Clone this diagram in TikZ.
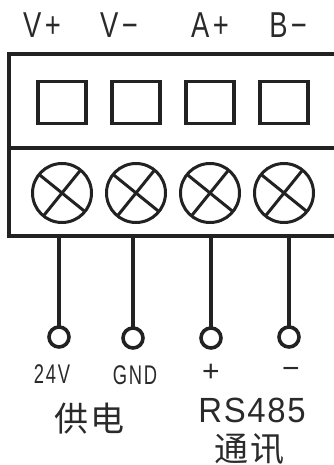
\documentclass[tikz,border=0pt]{standalone}
\usepackage{fontspec}
\setmainfont{Liberation Sans}
\newfontfamily\cjk{Noto Sans CJK SC}
\definecolor{ink}{HTML}{222222}
\definecolor{txt}{HTML}{2A2A2A}
\tikzset{
  x=1pt,y=-1pt,
  every node/.style={inner sep=0pt,outer sep=0pt,text=txt},
  frameline/.style={draw=ink,line width=3.6pt},
  slot/.style={draw=ink,line width=3.2pt,minimum width=48pt,minimum height=42pt},
  screwring/.style={circle,draw=ink,line width=3pt,minimum size=59pt},
  crossline/.style={draw=ink,line width=3pt},
  pad/.style={circle,draw=ink,line width=3.6pt,minimum size=20pt},
  wire/.style={draw=ink,line width=3.6pt},
  toplabel/.style={font=\fontsize{36}{36}\selectfont\addfontfeature{LetterSpace=12},xscale=.76},
  smalllabel/.style={font=\fontsize{27}{27}\selectfont\addfontfeature{LetterSpace=10},xscale=.68},
  signlabel/.style={font=\fontsize{30}{30}\selectfont,xscale=1},
  grouplabel/.style={font=\cjk\fontsize{34}{34}\selectfont\addfontfeature{LetterSpace=6}},
  rslabel/.style={font=\fontsize{35}{35}\selectfont\addfontfeature{LetterSpace=5},xscale=.94},
}
\begin{document}
\begin{tikzpicture}
\useasboundingbox (0,0) rectangle (334,465);
\clip (0,0) rectangle (334,465);
\fill[white] (0,0) rectangle (334,465);
% body, running off the right edge
\coordinate (tl) at (9,54);
\coordinate (br) at (345,236);
\coordinate (dl) at (9,148);
\coordinate (dr) at (345,148);
\draw[frameline] (tl) rectangle (br);
\draw[frameline] (dl) -- (dr);
% top labels
\node[toplabel] (lv1) at (42,25) {V+};
\node[toplabel] (lv2) at (119,25) {V−};
\node[toplabel] (la) at (210,25) {A+};
\node[toplabel] (lb) at (288,25) {B−};
% slots and screws
\foreach \n/\x in {1/62,2/136,3/210,4/284}{
  \node[slot] (s\n) at (\x,102.5) {};
  \node[screwring] (c\n) at (\x,193) {};
  \draw[crossline] (c\n.141) -- (c\n.-39);
  \draw[crossline] (c\n.51) -- (c\n.231);
}
% wires and pads
\foreach \n/\x/\y in {1/59/337,2/133/338,3/211/338,4/289/337}{
  \coordinate (w\n) at (\x,236);
  \node[pad] (p\n) at (\x,\y) {};
  \draw[wire] (w\n) -- (p\n);
}
% bottom labels
\node[smalllabel] (l24) at (52,374) {24V};
\node[smalllabel] (lgnd) at (135,375) {GND};
\node[signlabel] (lplus) at (211,373) {+};
\node[signlabel] (lminus) at (291,373) {−};
\node[grouplabel] (lpower) at (90,419) {供电};
\node[rslabel] (lrs) at (252,410) {RS485};
\node[grouplabel] (lcomm) at (250,449) {通讯};
\end{tikzpicture}
\end{document}
